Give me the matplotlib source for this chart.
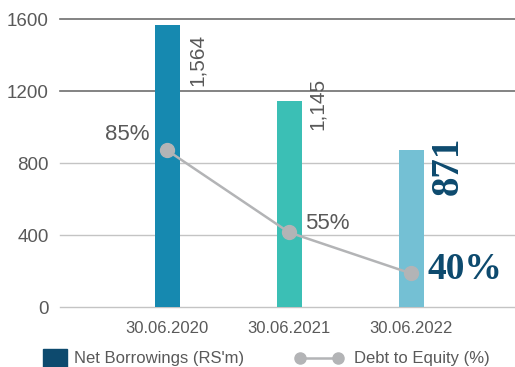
import matplotlib
matplotlib.use("Agg")
import matplotlib.pyplot as plt
import numpy as np

plt.rcParams['font.family'] = ['Liberation Sans', 'DejaVu Sans']

categories = ["30.06.2020", "30.06.2021", "30.06.2022"]
net_borrowings = [1564, 1145, 871]
debt_to_equity = [85, 55, 40]
bar_labels = ["1,564", "1,145", "871"]
pct_labels = ["85%", "55%", "40%"]
yticks = [0, 400, 800, 1200, 1600]

bar_colors = ["#1689b0", "#3bbfb5", "#74c0d4"]
navy = "#0d4a6e"
gray_text = "#595959"
line_gray = "#b3b4b6"

W, H = 515, 367
fig = plt.figure(figsize=(W / 100, H / 100), dpi=100)
ax = fig.add_axes([60 / W, (H - 307) / H, 455 / W, 288 / H])
x = np.arange(len(categories))

ax.set_xlim(-0.877, 2.852)
ax.set_ylim(0, 1600)
for t in yticks:
    if t >= 1200:
        c, lw = "#6e6e6e", 1.2
    else:
        c, lw = "#c4c4c4", 1.0
    ax.axhline(t, color=c, lw=lw, zorder=0, clip_on=False)

ax.bar(x, net_borrowings, width=0.205, color=bar_colors, zorder=2)

for s in ax.spines.values():
    s.set_visible(False)
ax.set_yticks(yticks)
ax.set_yticklabels([str(t) for t in yticks], fontsize=13.5, color=gray_text)
ax.tick_params(axis="y", length=0, pad=8)
ax.set_xticks(x)
ax.set_xticklabels(categories, fontsize=12, color=gray_text)
ax.tick_params(axis="x", length=0, pad=10)

# value labels on bars
lbl_off = [(30, -34), (28, -3), (37, -16)]
for i, (v, lab) in enumerate(zip(net_borrowings, bar_labels)):
    if i < 2:
        ax.annotate(lab, (x[i], v), xytext=lbl_off[i], textcoords="offset pixels",
                    rotation=90, ha="center", va="center", fontsize=15,
                    color=gray_text, zorder=5)
    else:
        ax.annotate(lab, (x[i], v), xytext=lbl_off[i], textcoords="offset pixels",
                    rotation=90, ha="center", va="center", fontsize=28,
                    family="Liberation Serif", weight="bold", color=navy, zorder=5)

# secondary axis for line
ax2 = ax.twinx()
ax2.set_ylim(27.74, 132.93)
ax2.axis("off")
ax2.plot(x, debt_to_equity, color=line_gray, lw=1.8, marker="o", markersize=10,
         zorder=4)
pct_off = [(-40, 16), (38, 9), (54, 4)]
for i, (v, lab) in enumerate(zip(debt_to_equity, pct_labels)):
    if i < 2:
        ax2.annotate(lab, (x[i], v), xytext=pct_off[i], textcoords="offset pixels",
                     ha="center", va="center", fontsize=16, color=gray_text)
    else:
        ax2.annotate(lab, (x[i], v), xytext=pct_off[i], textcoords="offset pixels",
                     ha="center", va="center", fontsize=27,
                     family="Liberation Serif", weight="bold", color=navy)

# legend (manual, figure coords)
fig.patches.append(plt.Rectangle((43 / W, 1 - 367 / H), 24 / W, 18 / H,
                                 transform=fig.transFigure, color=navy))
fig.text(74 / W, 1 - 358 / H, "Net Borrowings (RS'm)", fontsize=12,
         color=gray_text, va="center", ha="left")
fig.add_artist(plt.Line2D([300 / W, 338 / W], [1 - 358 / H, 1 - 358 / H],
                          transform=fig.transFigure, color=line_gray, lw=1.8,
                          marker="o", markersize=8))
fig.text(354 / W, 1 - 358 / H, "Debt to Equity (%)", fontsize=12,
         color=gray_text, va="center", ha="left")

fig.savefig("out.png", dpi=100)
